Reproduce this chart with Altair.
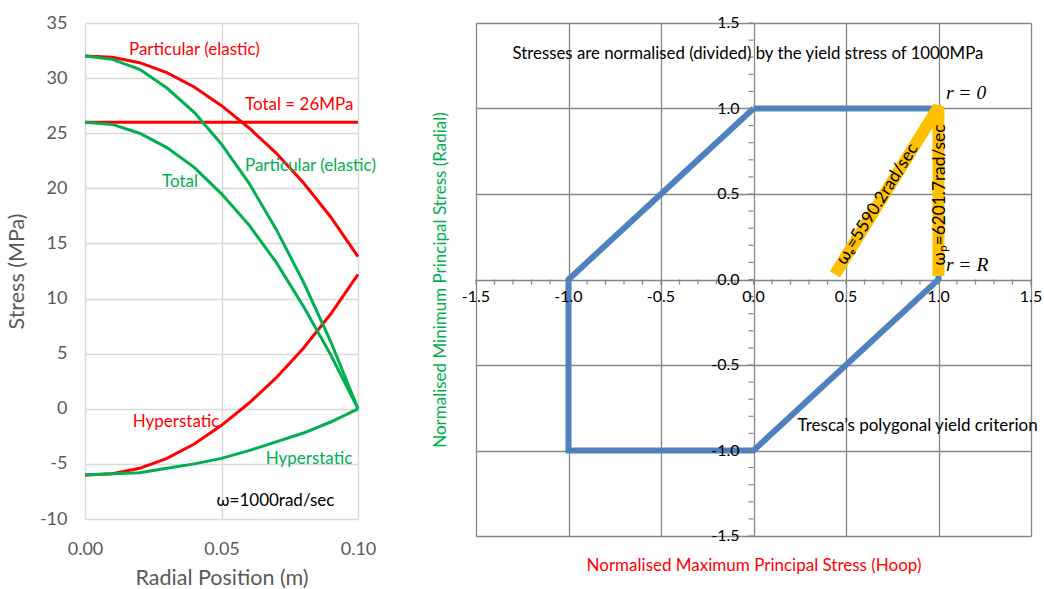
import altair as alt
import pandas as pd

# ---------------- Left panel: stresses across a rotating disk ----------------
radius = [0.00, 0.01, 0.02, 0.03, 0.04, 0.05, 0.06, 0.07, 0.08, 0.09, 0.10]

# hoop stresses (MPa)
hoop_particular = [32.0, 31.9, 31.4, 30.5, 29.2, 27.5, 25.5, 23.2, 20.5, 17.4, 13.8]
hoop_total = [26.0, 26.0, 26.0, 26.0, 26.0, 26.0, 26.0, 26.0, 26.0, 26.0, 26.0]
hoop_hyperstatic = [-6.0, -5.9, -5.4, -4.5, -3.2, -1.5, 0.5, 2.8, 5.5, 8.6, 12.2]

# radial stresses (MPa)
radial_particular = [32.0, 31.7, 30.8, 29.1, 26.9, 24.0, 20.5, 16.3, 11.5, 6.1, 0.0]
radial_total = [26.0, 25.8, 25.0, 23.7, 21.9, 19.5, 16.7, 13.3, 9.3, 4.9, 0.0]
radial_hyperstatic = [-6.0, -5.9, -5.8, -5.4, -5.0, -4.5, -3.8, -3.0, -2.2, -1.2, 0.0]

RED = "#FF0000"
GREEN = "#00B050"

series = [
    ("hoop particular", hoop_particular, RED),
    ("hoop total", hoop_total, RED),
    ("hoop hyperstatic", hoop_hyperstatic, RED),
    ("radial particular", radial_particular, GREEN),
    ("radial total", radial_total, GREEN),
    ("radial hyperstatic", radial_hyperstatic, GREEN),
]

rows = []
for name, values, _ in series:
    for r, s in zip(radius, values):
        rows.append({"series": name, "r": r, "stress": s})
stress_df = pd.DataFrame(rows)

# in-plot labels for the curves
left_labels = pd.DataFrame([
    {"text": "Particular (elastic)", "r": 0.0161, "stress": 32.55, "color": RED},
    {"text": "Total = 26MPa", "r": 0.0586, "stress": 27.6, "color": RED},
    {"text": "Particular (elastic)", "r": 0.0586, "stress": 22.05, "color": GREEN},
    {"text": "Total", "r": 0.0282, "stress": 20.6, "color": GREEN},
    {"text": "Hyperstatic", "r": 0.0175, "stress": -1.2, "color": RED},
    {"text": "Hyperstatic", "r": 0.0662, "stress": -4.55, "color": GREEN},
    {"text": "\u03c9=1000rad/sec", "r": 0.0482, "stress": -8.4, "color": "#000000"},
])

GRID_LIGHT = "#D9D9D9"
AXIS_GREY = "#595959"

x_left = alt.X(
    "r:Q",
    scale=alt.Scale(domain=[0, 0.1], nice=False),
    axis=alt.Axis(
        values=[0, 0.05, 0.1], format=".2f", title="Radial Position (m)",
        grid=True, gridColor=GRID_LIGHT, gridWidth=1.5, domain=False,
        ticks=False, tickSize=0, labelFontSize=18, labelColor=AXIS_GREY,
        labelPadding=21, labelFlush=False, labelOverlap=False,
        titleFontSize=21.5, titleColor=AXIS_GREY, titleFontWeight="normal",
        titlePadding=9,
    ),
)
y_left = alt.Y(
    "stress:Q",
    scale=alt.Scale(domain=[-10, 35], nice=False),
    axis=alt.Axis(
        values=list(range(-10, 36, 5)), labelExpr="'' + datum.value",
        title="Stress (MPa)",
        grid=True, gridColor=GRID_LIGHT, gridWidth=1.5, domain=False,
        ticks=False, tickSize=0, labelFontSize=18, labelColor=AXIS_GREY,
        labelPadding=18, labelFlush=False, labelOverlap=False,
        titleFontSize=21.5, titleColor=AXIS_GREY, titleFontWeight="normal",
        titlePadding=11,
    ),
)

curves = alt.Chart(stress_df).mark_line(strokeWidth=3).encode(
    x=x_left,
    y=y_left,
    color=alt.Color(
        "series:N",
        scale=alt.Scale(domain=[s[0] for s in series], range=[s[2] for s in series]),
        legend=None,
    ),
    order="r:Q",
)

curve_text = alt.Chart(left_labels).mark_text(
    align="left", baseline="middle", fontSize=17, font="Lato"
).encode(
    x="r:Q", y="stress:Q", text="text:N",
    color=alt.Color("color:N", scale=None),
)

left = alt.layer(curves, curve_text).properties(width=273, height=496)

# ---------------- Right panel: Tresca yield polygon ----------------
tresca_hoop = [0.0, 1.0, 1.0, 0.0, -1.0, -1.0, 0.0]
tresca_radial = [1.0, 1.0, 0.0, -1.0, -1.0, 0.0, 1.0]

# stress path of the disk from r = R (elastic limit) through r = 0 to r = R (fully plastic)
path_hoop = [0.44, 1.0, 1.0]
path_radial = [0.03, 1.01, 0.02]

major_ticks = [-1.5, -1.0, -0.5, 0.0, 0.5, 1.0, 1.5]
minor_ticks = [round(-1.5 + 0.1 * i, 1) for i in range(31)]

polygon_df = pd.DataFrame({"hoop": tresca_hoop, "radial": tresca_radial,
                           "k": list(range(len(tresca_hoop)))})
path_df = pd.DataFrame({"hoop": path_hoop, "radial": path_radial,
                        "k": list(range(len(path_hoop)))})
major_df = pd.DataFrame({"v": major_ticks, "z": [0.0] * len(major_ticks),
                         "label": [f"{v:.1f}" for v in major_ticks]})
minor_df = pd.DataFrame({"v": minor_ticks, "z": [0.0] * len(minor_ticks)})

GRID_DARK = "#868686"
BLUE = "#4F81BD"
YELLOW = "#FFC000"

x_right_scale = alt.Scale(domain=[-1.5, 1.5], nice=False)
y_right_scale = alt.Scale(domain=[-1.5, 1.5], nice=False)

x_right_axis = alt.Axis(
    values=major_ticks, grid=True, gridColor=GRID_DARK, gridWidth=1.3,
    labels=False, ticks=False, tickSize=0, domain=False, labelPadding=0,
    title="Normalised Maximum Principal Stress (Hoop)", titleColor=RED,
    titleFontSize=17, titleFontWeight="normal", titlePadding=21,
)
y_right_axis = alt.Axis(
    values=major_ticks, grid=True, gridColor=GRID_DARK, gridWidth=1.3,
    labels=False, ticks=False, tickSize=0, domain=False, labelPadding=0,
    title="Normalised Minimum Principal Stress (Radial)", titleColor=GREEN,
    titleFontSize=17, titleFontWeight="normal", titlePadding=27,
)

polygon = alt.Chart(polygon_df).mark_line(strokeWidth=6, color=BLUE).encode(
    x=alt.X("hoop:Q", scale=x_right_scale, axis=x_right_axis),
    y=alt.Y("radial:Q", scale=y_right_scale, axis=y_right_axis),
    order="k:Q",
)

path = alt.Chart(path_df).mark_line(
    strokeWidth=12, color=YELLOW, strokeCap="butt", strokeJoin="bevel"
).encode(
    x=alt.X("hoop:Q", scale=x_right_scale),
    y=alt.Y("radial:Q", scale=y_right_scale),
    order="k:Q",
)

# minor ticks hanging below the hoop axis and left of the radial axis
x_minor = alt.Chart(minor_df).mark_rule(color=GRID_DARK, strokeWidth=1.2, y2Offset=5).encode(
    x=alt.X("v:Q", scale=x_right_scale),
    y=alt.Y("z:Q", scale=y_right_scale),
    y2="z:Q",
)
y_minor = alt.Chart(minor_df).mark_rule(color=GRID_DARK, strokeWidth=1.2, x2Offset=-5).encode(
    y=alt.Y("v:Q", scale=y_right_scale),
    x=alt.X("z:Q", scale=x_right_scale),
    x2="z:Q",
)

x_labels = alt.Chart(major_df).mark_text(
    align="center", baseline="middle", dy=17, fontSize=16, font="Lato", color="#000000"
).encode(
    x=alt.X("v:Q", scale=x_right_scale),
    y=alt.Y("z:Q", scale=y_right_scale),
    text="label:N",
)
y_labels = alt.Chart(major_df).mark_text(
    align="right", baseline="middle", dx=-14, fontSize=16, font="Lato", color="#000000"
).encode(
    y=alt.Y("v:Q", scale=y_right_scale),
    x=alt.X("z:Q", scale=x_right_scale),
    text="label:N",
)

notes_df = pd.DataFrame([
    {"text": "Stresses are normalised (divided) by the yield stress of 1000MPa",
     "hoop": -0.03, "radial": 1.32},
])
notes = alt.Chart(notes_df).mark_text(
    align="center", baseline="middle", fontSize=16.8, font="Lato", color="#000000"
).encode(
    x=alt.X("hoop:Q", scale=x_right_scale),
    y=alt.Y("radial:Q", scale=y_right_scale),
    text="text:N",
)

tresca_df = pd.DataFrame([
    {"text": "Tresca\u2019s polygonal yield criterion", "hoop": 0.238, "radial": -0.857},
])
tresca_note = alt.Chart(tresca_df).mark_text(
    align="left", baseline="middle", fontSize=17, font="Lato", color="#000000"
).encode(
    x=alt.X("hoop:Q", scale=x_right_scale),
    y=alt.Y("radial:Q", scale=y_right_scale),
    text="text:N",
)

radius_df = pd.DataFrame([
    {"text": "r = 0", "hoop": 1.04, "radial": 1.09},
    {"text": "r = R", "hoop": 1.04, "radial": 0.085},
])
radius_marks = alt.Chart(radius_df).mark_text(
    align="left", baseline="middle", fontSize=19.5, font="Liberation Serif",
    fontStyle="italic", color="#000000"
).encode(
    x=alt.X("hoop:Q", scale=x_right_scale),
    y=alt.Y("radial:Q", scale=y_right_scale),
    text="text:N",
)

speed_elastic = alt.Chart(pd.DataFrame([
    {"text": "\u03c9\u2091=5590.2rad/sec", "hoop": 0.67, "radial": 0.44},
])).mark_text(
    align="center", baseline="middle", angle=302, fontSize=17.3, font="Lato", color="#000000"
).encode(
    x=alt.X("hoop:Q", scale=x_right_scale),
    y=alt.Y("radial:Q", scale=y_right_scale),
    text="text:N",
)
speed_plastic = alt.Chart(pd.DataFrame([
    {"text": "\u03c9\u209a=6201.7rad/sec", "hoop": 1.01, "radial": 0.494},
])).mark_text(
    align="center", baseline="middle", angle=270, fontSize=17.3, font="Lato", color="#000000"
).encode(
    x=alt.X("hoop:Q", scale=x_right_scale),
    y=alt.Y("radial:Q", scale=y_right_scale),
    text="text:N",
)

right = alt.layer(
    polygon, x_minor, y_minor, x_labels, y_labels, path,
    notes, tresca_note, radius_marks, speed_elastic, speed_plastic,
).properties(width=555, height=513)

chart = alt.hconcat(left, right, spacing=118, bounds="flush").properties(
    padding={"left": 6, "top": 14, "right": 0, "bottom": 0},
    background="#FFFFFF",
).configure_view(strokeWidth=0).configure_axis(
    labelFont="Lato", titleFont="Lato"
).configure_text(font="Lato")

chart.save("out.html", embed_options={"renderer": "svg", "actions": False})
